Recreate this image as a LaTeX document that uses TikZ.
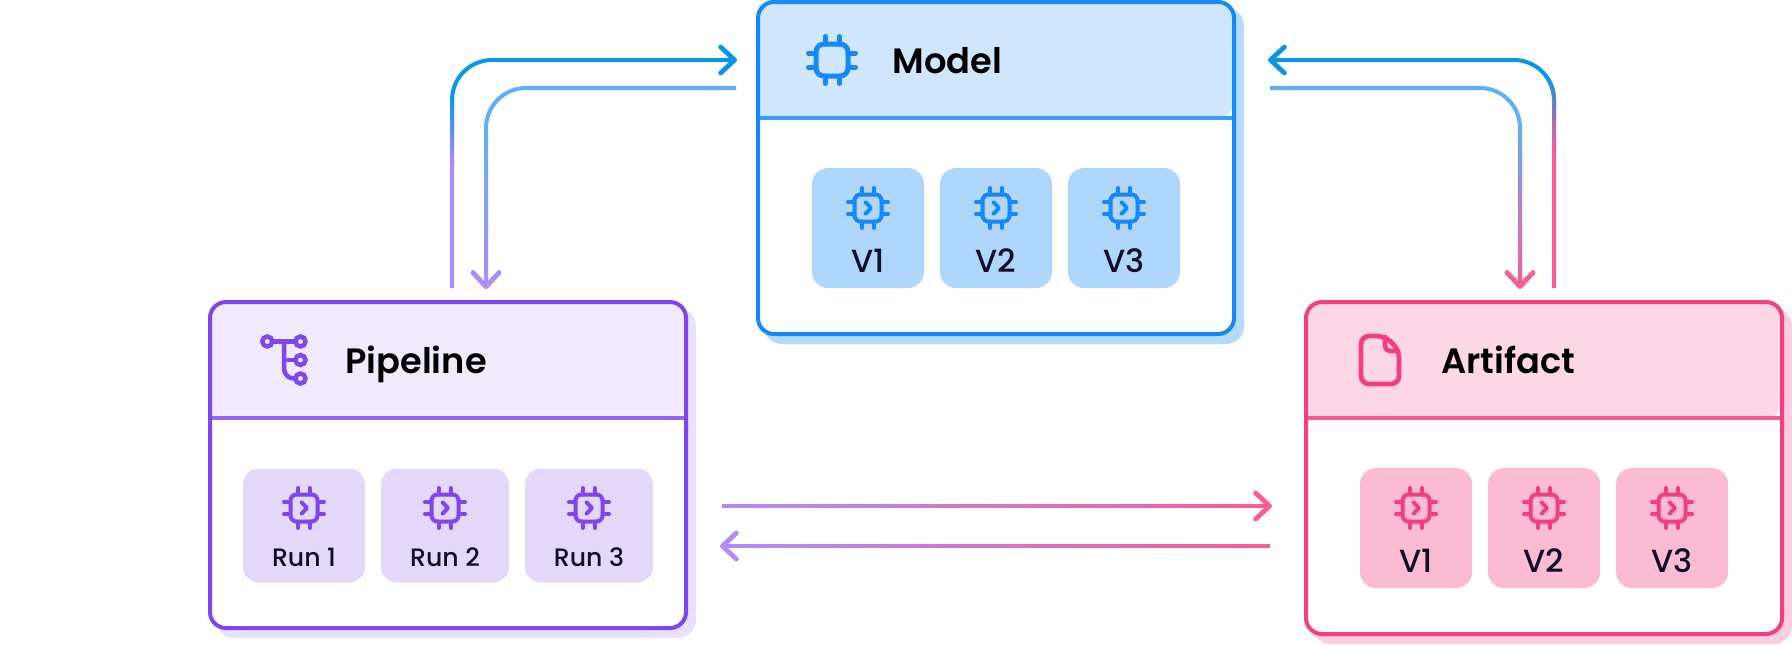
\documentclass[tikz,border=0pt]{standalone}
\usepackage{fontspec}
\usetikzlibrary{arrows.meta}
\setmainfont{Poppins}
\newfontfamily\titlefont{Poppins SemiBold}
\newfontfamily\chipfont{Poppins Medium}
\definecolor{mBorder}{HTML}{1589F9}\definecolor{mHead}{HTML}{CFE6FD}\definecolor{mDiv}{HTML}{3A9BF9}\definecolor{mChip}{HTML}{AFD6FB}\definecolor{mShadow}{HTML}{B5DAFD}
\definecolor{pBorder}{HTML}{7F45F1}\definecolor{pHead}{HTML}{F0EAFC}\definecolor{pDiv}{HTML}{9465F4}\definecolor{pChip}{HTML}{E3D7FA}\definecolor{pShadow}{HTML}{E8E0FC}
\definecolor{aBorder}{HTML}{F63D82}\definecolor{aHead}{HTML}{FCD8E6}\definecolor{aDiv}{HTML}{F85793}\definecolor{aChip}{HTML}{FBBBD3}\definecolor{aShadow}{HTML}{FBCFE0}
\definecolor{arBlue}{HTML}{0897E6}\definecolor{arSky}{HTML}{62AFF8}\definecolor{arPurple}{HTML}{B08CF8}\definecolor{arPink}{HTML}{F95C96}
\definecolor{chipText}{HTML}{120E28}
\tikzset{
  flowline/.style={line width=2pt,rounded corners=20pt,-{Straight Barb[length=7pt,width=13pt,round,line width=2.4pt]}},
  chipbox/.style={rounded corners=8pt,inner sep=0pt,outer sep=0pt,anchor=north west},
  framebox/.style={draw,line width=2pt,rounded corners=8pt,inner sep=0pt,outer sep=0pt,anchor=north west},
  boxtitle/.style={font=\titlefont\fontsize{17.6}{20}\selectfont,text=black,anchor=base west,inner sep=0pt},
  chiplabel/.style={font=\chipfont\fontsize{16}{18}\selectfont,text=chipText,anchor=base,inner sep=0pt},
  runlabel/.style={font=\chipfont\fontsize{12.6}{14}\selectfont,text=chipText,anchor=base,inner sep=0pt},
}
\newcommand{\cardbox}[7]{%
  \fill[#6Shadow,rounded corners=9pt] (#1+6,#2+6) rectangle (#3+10,#4+10);
  \fill[white,rounded corners=8pt] (#1,#2) rectangle (#3,#4);
  \fill[#6Head,rounded corners=8pt] (#1,#5) -- (#1,#2) -- (#3,#2) -- (#3,#5) [sharp corners] -- cycle;
  \draw[#6Div,line width=2pt] (#1,#5) -- (#3,#5);
  \pgfmathsetmacro\cw{(#3-#1)*0.5}\pgfmathsetmacro\ch{(#4-#2)*0.5}
  \node[framebox,draw=#6Border,minimum width=\cw pt,minimum height=\ch pt] (#7) at (#1,#2) {};
}
\newcommand{\bigchip}[3]{%
  \begin{scope}[shift={(#1,#2)},draw=#3,line width=2.5pt,line cap=round]
    \draw[rounded corners=4pt] (-16,-16) rectangle (16,16);
    \foreach \s in {-7,7}{
      \draw (\s,-23.5) -- (\s,-16); \draw (\s,16) -- (\s,23.5);
      \draw (-23.5,\s) -- (-16,\s); \draw (16,\s) -- (23.5,\s);
    }
  \end{scope}}
\newcommand{\smallchip}[3]{%
  \begin{scope}[shift={(#1,#2)},draw=#3,line width=2pt,line cap=round,line join=round]
    \draw[rounded corners=3pt] (-13.5,-13.5) rectangle (13.5,13.5);
    \foreach \s in {-6,6}{
      \draw (\s,-20) -- (\s,-13.5); \draw (\s,13.5) -- (\s,20);
      \draw (-20,\s) -- (-13.5,\s); \draw (13.5,\s) -- (20,\s);
    }
    \draw (-2.3,-5.5) -- (3,0) -- (-2.3,5.5);
  \end{scope}}
% One arrow, cut into bands along y (V) or x (H); each band is painted once.
\newcommand{\gradV}[5]{%
  \foreach \i in {0,...,40}{
    \pgfmathsetmacro\py{\i==0 ? -10 : #1+(#2-#1)/40*\i}
    \pgfmathsetmacro\pz{\i==40 ? 700 : #1+(#2-#1)/40*(\i+1)+1}
    \pgfmathsetmacro\pc{100/40*\i}
    \begin{scope}
      \clip (-10,\py) rectangle (1800,\pz);
      \draw[flowline,draw={#4!\pc!#3}] #5;
    \end{scope}
  }}
\newcommand{\gradH}[5]{%
  \foreach \i in {0,...,60}{
    \pgfmathsetmacro\px{\i==0 ? -10 : #1+(#2-#1)/60*\i}
    \pgfmathsetmacro\pz{\i==60 ? 1800 : #1+(#2-#1)/60*(\i+1)+1}
    \pgfmathsetmacro\pc{100/60*\i}
    \begin{scope}
      \clip (\px,-10) rectangle (\pz,700);
      \draw[flowline,draw={#4!\pc!#3}] #5;
    \end{scope}
  }}
\begin{document}
\begin{tikzpicture}[x=0.5pt,y=-0.5pt]
\useasboundingbox (0,0) rectangle (1792,644);
\fill[white] (0,0) rectangle (1792,644);

% Cards
\cardbox{758}{2}{1234}{334}{118}{m}{model}
\cardbox{210}{302}{686}{628}{418}{p}{pipeline}
\cardbox{1306}{302}{1782}{634}{418}{a}{artifact}

% Titles
\node[boxtitle] (modeltitle) at (892,73) {Model};
\node[boxtitle] (pipelinetitle) at (345,373) {Pipeline};
\node[boxtitle] (artifacttitle) at (1441,373) {Artifact};

% Header icons
\bigchip{832}{60}{mBorder}
\begin{scope}[draw=pBorder,line width=2.25pt,line cap=round]
  \draw (267.3,341.5) circle[radius=2.5pt];
  \draw (300.5,341.5) circle[radius=2.5pt];
  \draw (300.5,360) circle[radius=2.5pt];
  \draw (300.5,378.5) circle[radius=2.5pt];
  \draw (272.5,341.5) -- (295.5,341.5);
  \draw (284,360) -- (295.5,360);
  \draw[rounded corners=5pt] (284,341.5) -- (284,378.5) -- (295.5,378.5);
\end{scope}
\begin{scope}[draw=aBorder,line width=2.4pt,line join=round,line cap=round]
  \draw[rounded corners=4pt] (1385,336) -- (1361,336) -- (1361,384) -- (1399,384) -- (1399,350) -- cycle;
  \draw[rounded corners=2.5pt] (1385,337) -- (1385,351) -- (1398,351);
\end{scope}

% Model chips
\foreach \nm/\x/\t in {mvone/812/V1,mvtwo/940/V2,mvthree/1068/V3}{
  \node[chipbox,fill=mChip,minimum width=56pt,minimum height=60pt] (\nm) at (\x,168) {};
  \smallchip{\x+56}{208}{mBorder}
  \node[chiplabel] (\nm t) at (\x+56,272) {\t};
}
% Pipeline chips
\node[chipbox,fill=pChip,minimum width=61pt,minimum height=57pt] (runone) at (243,468.5) {};
\node[chipbox,fill=pChip,minimum width=64pt,minimum height=57pt] (runtwo) at (381,468.5) {};
\node[chipbox,fill=pChip,minimum width=64pt,minimum height=57pt] (runthree) at (525,468.5) {};
\smallchip{304}{508}{pBorder}\smallchip{445}{508}{pBorder}\smallchip{589}{508}{pBorder}
\node[runlabel] (runonet) at (304,566) {Run 1};
\node[runlabel] (runtwot) at (445,566) {Run 2};
\node[runlabel] (runthreet) at (589,566) {Run 3};
% Artifact chips
\foreach \nm/\x/\t in {avone/1360/V1,avtwo/1488/V2,avthree/1616/V3}{
  \node[chipbox,fill=aChip,minimum width=56pt,minimum height=60pt] (\nm) at (\x,468) {};
  \smallchip{\x+56}{508}{aBorder}
  \node[chiplabel] (\nm t) at (\x+56,572) {\t};
}

% Connector end points
\coordinate (pmS) at (452,288);  \coordinate (pmE) at (737,60);
\coordinate (mpS) at (736,88);   \coordinate (mpE) at (486,289);
\coordinate (amS) at (1554,288); \coordinate (amE) at (1268,60);
\coordinate (maS) at (1270,88);  \coordinate (maE) at (1520,289);
\coordinate (paS) at (722,506);  \coordinate (paE) at (1272,506);
\coordinate (apS) at (1270,546); \coordinate (apE) at (720,546);

\gradV{95}{165}{arBlue}{arPurple}{(pmS) |- (pmE)}
\gradV{130}{285}{arSky}{arPurple}{(mpS) -| (mpE)}
\gradV{75}{150}{arBlue}{arPink}{(amS) |- (amE)}
\gradV{125}{285}{arSky}{arPink}{(maS) -| (maE)}
\gradH{722}{1260}{arPurple}{arPink}{(paS) -- (paE)}
\gradH{722}{1260}{arPurple}{arPink}{(apS) -- (apE)}
\end{tikzpicture}
\end{document}
